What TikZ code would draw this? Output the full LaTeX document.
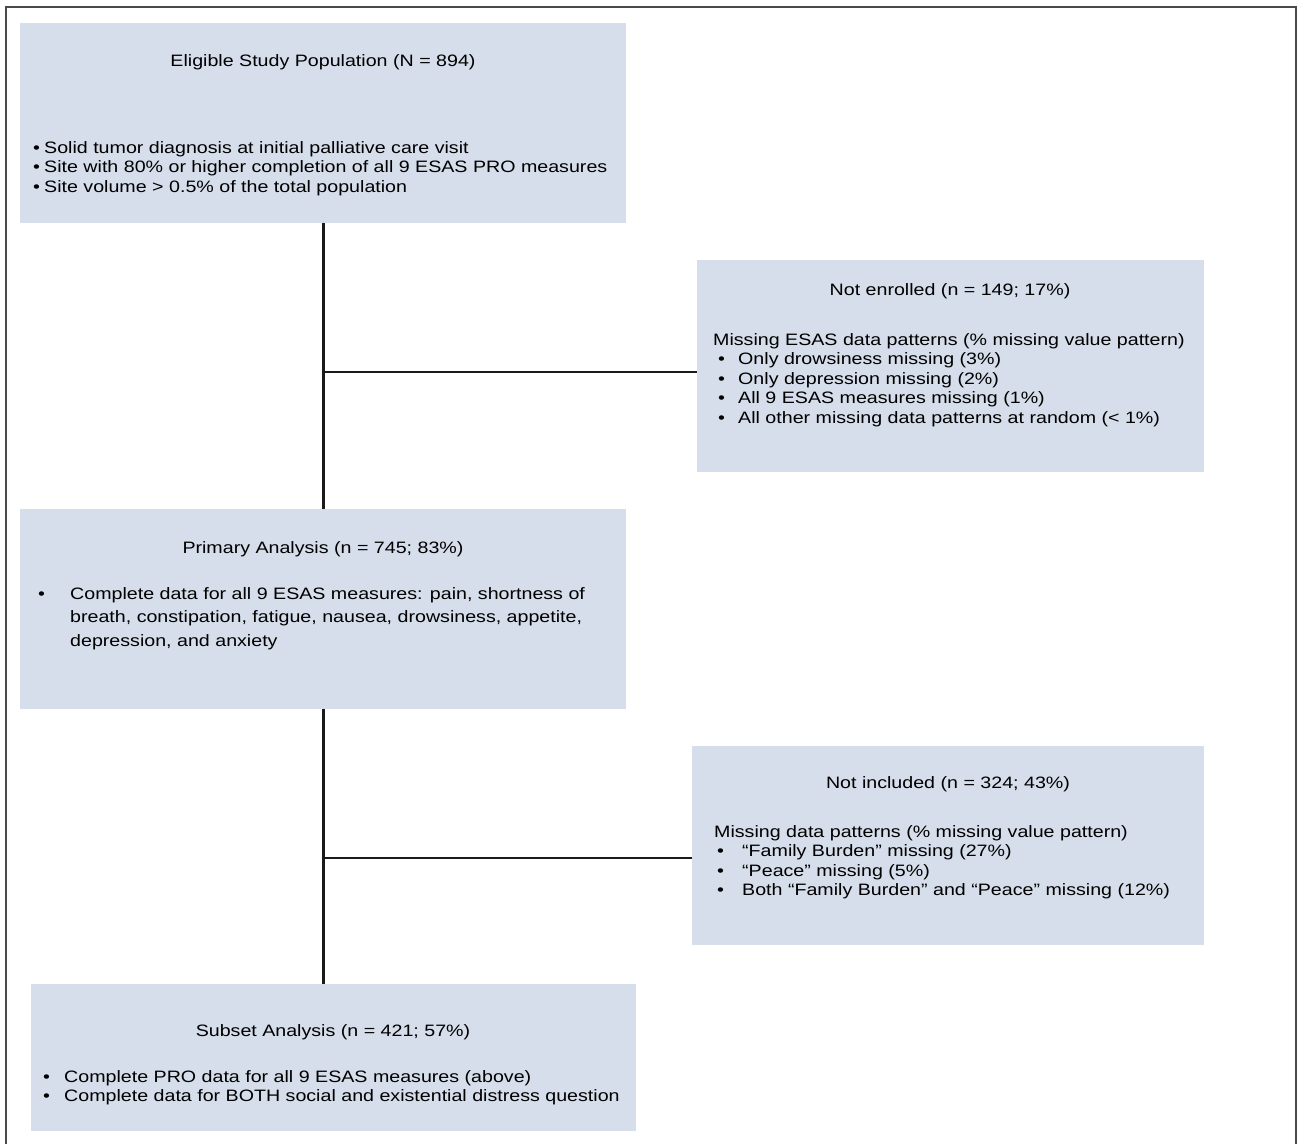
\documentclass[tikz,border=0pt]{standalone}
\usepackage{fontspec}
\setmainfont{Liberation Sans}[FakeStretch=1.19]
\usetikzlibrary{positioning}
\definecolor{boxfill}{HTML}{D5DEEA}
\definecolor{framegray}{HTML}{4A4A4A}
\definecolor{linecol}{HTML}{1A1A1A}
\newcommand{\bl}[1]{\makebox[#1][l]{\textbullet}}
\tikzset{
  box/.style={fill=boxfill, draw=none, anchor=north west, inner sep=0pt},
  ttl/.style={inner sep=0pt, anchor=base, font=\fontsize{16.5}{20}\selectfont},
  body/.style={inner sep=0pt, anchor=north west, align=left, font=\fontsize{16.5}{19.5}\selectfont},
  conn/.style={draw=linecol, line width=2.6pt},
  frame/.style={draw=framegray, line width=2pt}
}
\begin{document}
\begin{tikzpicture}[x=1pt,y=-1pt]
\useasboundingbox (0,0) rectangle (1297,1144);
\draw[frame] (5.5,1144) -- (5.5,7) -- (1295.5,7) -- (1295.5,1144);
% boxes
\node[box, minimum width=606pt, minimum height=200pt] (b1) at (20,23) {};
\node[box, minimum width=507pt, minimum height=212pt] (b2) at (697,260) {};
\node[box, minimum width=606pt, minimum height=200pt] (b3) at (20,509) {};
\node[box, minimum width=512pt, minimum height=199pt] (b4) at (692,746) {};
\node[box, minimum width=605pt, minimum height=147pt] (b5) at (31,984) {};
% texts box 1
\node[ttl] (t1) at (323,66) {Eligible Study Population (N = 894)};
\node[body] (l1) at (33,141) {\bl{11pt}Solid tumor diagnosis at initial palliative care visit\\
\bl{11pt}Site with 80\% or higher completion of all 9 ESAS PRO measures\\
\bl{11pt}Site volume {\char"003E} 0.5\% of the total population};
% box 2
\node[ttl] (t2) at (950,295) {Not enrolled (n = 149; 17\%)};
\node[body] (l2) at (713,333) {Missing ESAS data patterns (\% missing value pattern)\\
\hspace*{5pt}\bl{20pt}Only drowsiness missing (3\%)\\
\hspace*{5pt}\bl{20pt}Only depression missing (2\%)\\
\hspace*{5pt}\bl{20pt}All 9 ESAS measures missing (1\%)\\
\hspace*{5pt}\bl{20pt}All other missing data patterns at random ({\char"003C} 1\%)};
% box 3
\node[ttl] (t3) at (323,553) {Primary Analysis (n = 745; 83\%)};
\node[body] (l3) at (38,583) {\def\arraystretch{1.2}\begin{tabular}{@{}p{32pt}@{}l@{}}
\textbullet & Complete data for all 9 ESAS measures: pain, shortness of\\
 & breath, constipation, fatigue, nausea, drowsiness, appetite,\\
 & depression, and anxiety
\end{tabular}};
% box 4
\node[ttl] (t4) at (948,788) {Not included (n = 324; 43\%)};
\node[body] (l4) at (714,825) {Missing data patterns (\% missing value pattern)\\
\hspace*{3pt}\bl{25pt}\textquotedblleft Family Burden\textquotedblright\ missing (27\%)\\
\hspace*{3pt}\bl{25pt}\textquotedblleft Peace\textquotedblright\ missing (5\%)\\
\hspace*{3pt}\bl{25pt}Both \textquotedblleft Family Burden\textquotedblright\ and \textquotedblleft Peace\textquotedblright\ missing (12\%)};
% box 5
\node[ttl] (t5) at (333,1036) {Subset Analysis (n = 421; 57\%)};
\node[body] (l5) at (43,1070) {\bl{21pt}Complete PRO data for all 9 ESAS measures (above)\\
\bl{21pt}Complete data for BOTH social and existential distress question};
% connectors
\coordinate (j1) at (323,372);
\coordinate (j2) at (323,858);
\draw[conn] (b1.south) -- (b3.north);
\draw[conn] (b3.south) -- (b3.south |- b5.north);
\draw[conn] (j1) -- (j1 -| b2.west);
\draw[conn] (j2) -- (j2 -| b4.west);
\end{tikzpicture}
\end{document}
